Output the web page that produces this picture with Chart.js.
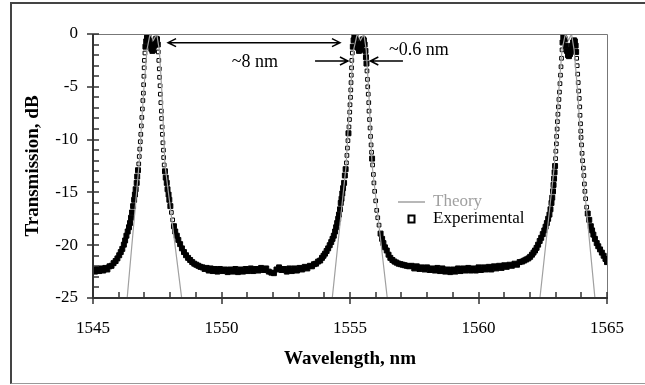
<!DOCTYPE html>
<html>
<head>
<meta charset="utf-8">
<script src="https://cdn.jsdelivr.net/npm/chart.js@4.4.1/dist/chart.umd.min.js"></script>
<style>
  html, body { margin: 0; padding: 0; background: #fff; }
  #wrap { position: relative; width: 645px; height: 385px; overflow: hidden; }
  #frame { position: absolute; left: 10px; top: 2px; width: 700px; height: 379px;
           border-left: 2px solid #444; border-top: 2px solid #444; border-bottom: 1px solid #999;
           pointer-events: none; }
</style>
</head>
<body>
<div id="wrap">
  <canvas id="chart" width="645" height="385"></canvas>
  <div id="frame"></div>
</div>
<script>
// axis ticks
const xTicks = [1545, 1550, 1555, 1560, 1565];
const yTicks = [0, -5, -10, -15, -20, -25];

// experimental transmission
const expWl = [
  1545.00, 1545.08, 1545.16, 1545.24, 1545.32, 1545.40, 1545.48, 1545.56, 1545.64, 1545.72,
  1545.80, 1545.88, 1545.95, 1546.02, 1546.08, 1546.14, 1546.20, 1546.25, 1546.30, 1546.35,
  1546.40, 1546.44, 1546.48, 1546.52, 1546.56, 1546.60, 1546.63, 1546.66, 1546.70, 1546.72,
  1546.75, 1546.78, 1546.80, 1546.82, 1546.84, 1546.86, 1546.88, 1546.90, 1546.92, 1546.94,
  1546.96, 1546.97, 1546.98, 1546.99, 1547.00, 1547.02, 1547.04, 1547.07, 1547.10, 1547.13,
  1547.16, 1547.19, 1547.23, 1547.27, 1547.31, 1547.35, 1547.39, 1547.43, 1547.46, 1547.49,
  1547.52, 1547.54, 1547.56, 1547.58, 1547.59, 1547.61, 1547.62, 1547.64, 1547.66, 1547.67,
  1547.69, 1547.70, 1547.72, 1547.74, 1547.75, 1547.77, 1547.80, 1547.83, 1547.87, 1547.90,
  1547.94, 1547.97, 1548.01, 1548.05, 1548.10, 1548.15, 1548.20, 1548.26, 1548.32, 1548.39,
  1548.46, 1548.54, 1548.62, 1548.70, 1548.78, 1548.86, 1548.94, 1549.02, 1549.10, 1549.18,
  1549.26, 1549.34, 1549.42, 1549.50, 1549.58, 1549.66, 1549.74, 1549.84, 1549.94, 1550.04,
  1550.14, 1550.24, 1550.34, 1550.44, 1550.54, 1550.64, 1550.74, 1550.84, 1550.94, 1551.04,
  1551.14, 1551.24, 1551.34, 1551.44, 1551.54, 1551.64, 1551.74, 1551.84, 1551.94, 1552.04,
  1552.14, 1552.24, 1552.34, 1552.44, 1552.54, 1552.64, 1552.74, 1552.84, 1552.94, 1553.04,
  1553.14, 1553.24, 1553.34, 1553.44, 1553.52, 1553.60, 1553.68, 1553.76, 1553.84, 1553.91,
  1553.97, 1554.03, 1554.09, 1554.15, 1554.21, 1554.27, 1554.32, 1554.37, 1554.42, 1554.46,
  1554.50, 1554.54, 1554.57, 1554.61, 1554.64, 1554.67, 1554.70, 1554.73, 1554.77, 1554.80,
  1554.83, 1554.86, 1554.88, 1554.90, 1554.92, 1554.94, 1554.96, 1554.98, 1554.99, 1555.00,
  1555.02, 1555.03, 1555.04, 1555.05, 1555.06, 1555.07, 1555.09, 1555.11, 1555.14, 1555.17,
  1555.20, 1555.23, 1555.27, 1555.31, 1555.35, 1555.39, 1555.43, 1555.47, 1555.51, 1555.54,
  1555.57, 1555.60, 1555.62, 1555.64, 1555.66, 1555.68, 1555.69, 1555.71, 1555.73, 1555.74,
  1555.76, 1555.78, 1555.80, 1555.82, 1555.84, 1555.86, 1555.88, 1555.91, 1555.93, 1555.96,
  1556.00, 1556.04, 1556.08, 1556.13, 1556.19, 1556.25, 1556.30, 1556.36, 1556.43, 1556.50,
  1556.57, 1556.65, 1556.73, 1556.81, 1556.89, 1556.97, 1557.05, 1557.13, 1557.21, 1557.30,
  1557.40, 1557.50, 1557.60, 1557.70, 1557.80, 1557.90, 1558.00, 1558.10, 1558.20, 1558.30,
  1558.40, 1558.50, 1558.60, 1558.70, 1558.80, 1558.90, 1559.00, 1559.10, 1559.20, 1559.30,
  1559.40, 1559.50, 1559.60, 1559.70, 1559.80, 1559.90, 1560.00, 1560.10, 1560.20, 1560.30,
  1560.40, 1560.50, 1560.60, 1560.70, 1560.80, 1560.90, 1561.00, 1561.10, 1561.20, 1561.30,
  1561.40, 1561.50, 1561.60, 1561.70, 1561.78, 1561.86, 1561.94, 1562.01, 1562.08, 1562.14,
  1562.20, 1562.26, 1562.32, 1562.38, 1562.44, 1562.50, 1562.56, 1562.61, 1562.66, 1562.71,
  1562.76, 1562.80, 1562.84, 1562.87, 1562.90, 1562.92, 1562.94, 1562.96, 1562.98, 1563.00,
  1563.01, 1563.03, 1563.04, 1563.06, 1563.07, 1563.09, 1563.11, 1563.13, 1563.15, 1563.17,
  1563.19, 1563.21, 1563.23, 1563.25, 1563.27, 1563.30, 1563.33, 1563.36, 1563.40, 1563.44,
  1563.48, 1563.52, 1563.56, 1563.60, 1563.64, 1563.68, 1563.72, 1563.75, 1563.78, 1563.80,
  1563.82, 1563.84, 1563.86, 1563.88, 1563.90, 1563.92, 1563.94, 1563.95, 1563.97, 1563.98,
  1563.99, 1564.01, 1564.03, 1564.05, 1564.08, 1564.10, 1564.12, 1564.14, 1564.17, 1564.21,
  1564.25, 1564.31, 1564.37, 1564.42, 1564.47, 1564.53, 1564.60, 1564.66, 1564.73, 1564.80,
  1564.87, 1564.94, 1565.00
];
const expDb = [
  -22.35, -22.5, -22.25, -22.45, -22.2, -22.4, -22.15, -22.3, -22.0, -21.95,
  -21.7, -21.5, -21.25, -20.95, -20.65, -20.35, -19.95, -19.55, -19.1, -18.7,
  -18.3, -17.9, -17.4, -16.9, -16.3, -15.7, -15.2, -14.7, -14.1, -13.5,
  -12.9, -12.3, -11.6, -10.9, -10.2, -9.5, -8.7, -7.9, -7.1, -6.3,
  -5.6, -4.8, -4.0, -3.2, -2.5, -1.8, -1.2, -0.7, -0.35, -0.2,
  -0.3, -0.6, -1.0, -1.4, -1.6, -1.5, -1.1, -0.7, -0.45, -0.5,
  -1.0, -1.7, -2.5, -3.3, -4.1, -4.9, -5.7, -6.5, -7.3, -8.0,
  -8.8, -9.5, -10.3, -11.0, -11.7, -12.4, -13.0, -13.6, -14.1, -14.7,
  -15.2, -15.7, -16.3, -16.9, -17.6, -18.2, -18.7, -19.1, -19.5, -19.9,
  -20.3, -20.65, -20.95, -21.2, -21.4, -21.6, -21.75, -21.85, -21.95, -22.05,
  -22.1, -22.25, -22.15, -22.4, -22.2, -22.45, -22.25, -22.5, -22.25, -22.45,
  -22.3, -22.55, -22.3, -22.5, -22.25, -22.55, -22.3, -22.5, -22.25, -22.45,
  -22.2, -22.45, -22.25, -22.4, -22.15, -22.35, -22.2, -22.5, -22.6, -22.65,
  -22.3, -22.1, -22.35, -22.25, -22.5, -22.2, -22.45, -22.2, -22.4, -22.15,
  -22.3, -22.05, -22.2, -21.95, -22.0, -21.8, -21.75, -21.55, -21.45, -21.2,
  -21.0, -20.8, -20.55, -20.3, -20.0, -19.7, -19.4, -19.1, -18.7, -18.3,
  -17.9, -17.5, -17.1, -16.6, -16.0, -15.6, -15.1, -14.6, -14.1, -13.4,
  -12.8, -12.2, -11.5, -10.8, -10.1, -9.4, -8.8, -8.1, -7.4, -6.7,
  -6.0, -5.3, -4.6, -3.9, -3.2, -2.5, -1.8, -1.2, -0.6, -0.25,
  -0.2, -0.4, -0.9, -1.3, -1.6, -1.5, -1.1, -0.7, -0.5, -0.6,
  -1.0, -1.6, -2.2, -2.8, -3.5, -4.3, -5.0, -5.7, -6.5, -7.3,
  -8.1, -8.9, -9.7, -10.5, -11.2, -11.8, -12.4, -13.3, -14.1, -14.9,
  -15.8, -16.7, -17.4, -18.1, -18.9, -19.4, -19.8, -20.2, -20.5, -20.9,
  -21.2, -21.4, -21.55, -21.65, -21.75, -21.8, -21.85, -21.9, -21.95, -22.0,
  -21.95, -22.2, -22.0, -22.25, -22.1, -22.3, -22.1, -22.35, -22.2, -22.4,
  -22.15, -22.45, -22.2, -22.5, -22.3, -22.55, -22.3, -22.5, -22.2, -22.45,
  -22.2, -22.4, -22.15, -22.4, -22.2, -22.4, -22.1, -22.35, -22.1, -22.3,
  -22.05, -22.3, -22.0, -22.2, -21.95, -22.15, -21.9, -22.05, -21.85, -21.95,
  -21.75, -21.85, -21.6, -21.55, -21.45, -21.35, -21.25, -21.1, -20.9, -20.7,
  -20.5, -20.25, -19.95, -19.6, -19.3, -18.95, -18.6, -18.25, -17.9, -17.5,
  -17.1, -16.6, -16.0, -15.5, -14.9, -14.3, -13.7, -13.1, -12.5, -11.8,
  -11.1, -10.4, -9.7, -9.0, -8.3, -7.6, -6.9, -6.2, -5.5, -4.7,
  -3.9, -3.1, -2.3, -1.5, -0.8, -0.3, -0.2, -0.5, -1.1, -1.6,
  -2.0, -2.1, -1.9, -1.5, -1.1, -0.8, -0.6, -0.7, -1.1, -1.7,
  -2.3, -3.0, -3.8, -4.6, -5.4, -6.1, -6.9, -7.7, -8.5, -9.2,
  -9.8, -10.5, -11.3, -12.0, -12.7, -13.4, -14.2, -14.9, -15.6, -16.4,
  -17.0, -17.6, -18.2, -18.6, -19.0, -19.4, -19.8, -20.1, -20.4, -20.7,
  -21.0, -21.3, -21.6
];

// theory curve, null separates the three resonances
const theoryWl = [
  1546.33, 1546.79, 1546.97, 1547.10, 1547.22, 1547.35, 1547.48, 1547.58, 1547.68, 1547.80, 1548.45, 1551.00,
  1554.31, 1554.85, 1555.01, 1555.14, 1555.28, 1555.41, 1555.54, 1555.63, 1555.73, 1555.86, 1556.45, 1559.00,
  1562.39, 1562.95, 1563.12, 1563.25, 1563.38, 1563.50, 1563.62, 1563.72, 1563.86, 1564.04, 1564.53
];
const theoryDb = [
  -25, -12.4, -5.5, -1.5, 0, -0.6, 0, -1.5, -5.5, -12.4, -25, null,
  -25, -12.4, -5.5, -1.5, 0, -0.6, 0, -1.5, -5.5, -12.4, -25, null,
  -25, -12.5, -5.5, -1.5, 0, -0.6, 0, -1.5, -5.5, -12.5, -25
];

const SERIF = "'Liberation Serif', 'Times New Roman', serif";

function arrowHead(ctx, x, y, dir) {
  ctx.moveTo(x - dir * 8, y - 4);
  ctx.lineTo(x, y);
  ctx.lineTo(x - dir * 8, y + 4);
}

// true where the trace is nearly flat, so overlapping samples read as a solid band
function isFlat(i) {
  const a = expDb[Math.max(i - 1, 0)];
  const b = expDb[Math.min(i + 1, expDb.length - 1)];
  return Math.abs(b - a) < 1.3;
}

// axes with inside minor ticks, legend and the ~8 nm / ~0.6 nm marks
const decorations = {
  id: 'decorations',
  afterDatasetsDraw(chart) {
    const { ctx, chartArea: a, scales: { x, y } } = chart;
    ctx.save();

    ctx.strokeStyle = '#777';
    ctx.lineWidth = 1;
    ctx.beginPath();
    ctx.moveTo(a.left, a.top + 0.5);
    ctx.lineTo(a.right + 0.5, a.top + 0.5);
    ctx.lineTo(a.right + 0.5, a.bottom);
    ctx.stroke();

    ctx.strokeStyle = '#333';
    ctx.lineWidth = 2;
    ctx.beginPath();
    ctx.moveTo(a.left, a.top);
    ctx.lineTo(a.left, a.bottom);
    ctx.lineTo(a.right + 1, a.bottom);
    ctx.stroke();

    ctx.lineWidth = 1.5;
    ctx.beginPath();
    for (let v = x.min; v <= x.max; v++) {
      const px = Math.round(x.getPixelForValue(v));
      const major = v % 5 === 0;
      ctx.moveTo(px, a.bottom - 6);
      ctx.lineTo(px, a.bottom + (major ? 6 : 0));
    }
    for (let v = y.min; v <= y.max; v++) {
      const py = Math.round(y.getPixelForValue(v));
      const major = v % 5 === 0;
      ctx.moveTo(a.left + 6, py);
      ctx.lineTo(a.left - (major ? 6 : 0), py);
    }
    ctx.stroke();

    // legend
    ctx.strokeStyle = '#a0a0a0';
    ctx.lineWidth = 1.5;
    ctx.beginPath();
    ctx.moveTo(398, 202);
    ctx.lineTo(425, 202);
    ctx.stroke();
    ctx.strokeStyle = '#000';
    ctx.lineWidth = 2;
    ctx.fillStyle = '#fff';
    ctx.fillRect(408.5, 215.5, 6, 7);
    ctx.strokeRect(408.5, 215.5, 6, 7);
    ctx.font = '17px ' + SERIF;
    ctx.textBaseline = 'middle';
    ctx.textAlign = 'left';
    ctx.fillStyle = '#a0a0a0';
    ctx.fillText('Theory', 433, 202);
    ctx.fillStyle = '#000';
    ctx.fillText('Experimental', 433, 219);

    // annotations
    ctx.strokeStyle = '#000';
    ctx.lineWidth = 1.5;
    const yTop = y.getPixelForValue(-0.82);
    const x0 = x.getPixelForValue(1547.92), x1 = x.getPixelForValue(1554.61);
    ctx.beginPath();
    ctx.moveTo(x0, yTop); ctx.lineTo(x1, yTop);
    arrowHead(ctx, x0, yTop, -1);
    arrowHead(ctx, x1, yTop, 1);
    const yMid = y.getPixelForValue(-2.56);
    const l0 = x.getPixelForValue(1553.64), l1 = x.getPixelForValue(1554.92);
    const r0 = x.getPixelForValue(1557.06), r1 = x.getPixelForValue(1555.79);
    ctx.moveTo(l0, yMid); ctx.lineTo(l1, yMid);
    arrowHead(ctx, l1, yMid, 1);
    ctx.moveTo(r0, yMid); ctx.lineTo(r1, yMid);
    arrowHead(ctx, r1, yMid, -1);
    ctx.stroke();

    ctx.font = '18px ' + SERIF;
    ctx.textAlign = 'center';
    ctx.fillText('~8 nm', x.getPixelForValue(1551.3), y.getPixelForValue(-2.65));
    ctx.textAlign = 'left';
    ctx.fillText('~0.6 nm', x.getPixelForValue(1556.52), y.getPixelForValue(-1.55));
    ctx.restore();
  }
};

const expPoints = expWl.map((w, i) => ({ x: w, y: expDb[i] }));
const theoryPoints = theoryWl.map((w, i) => ({ x: w, y: theoryDb[i] }));

new Chart(document.getElementById('chart'), {
  type: 'scatter',
  data: {
    datasets: [
      {
        label: 'Theory',
        data: theoryPoints,
        showLine: true,
        borderColor: '#a0a0a0',
        borderWidth: 1.2,
        pointRadius: 0,
        tension: 0
      },
      {
        label: 'Experimental',
        data: expPoints,
        showLine: false,
        pointStyle: 'rect',
        pointRadius: ctx => (isFlat(ctx.dataIndex) ? 3.5 : 2.6),
        pointBorderWidth: 1,
        pointBorderColor: '#000',
        pointBackgroundColor: ctx => (isFlat(ctx.dataIndex) ? '#000' : '#fff')
      }
    ]
  },
  options: {
    responsive: false,
    animation: false,
    devicePixelRatio: 1,
    layout: { padding: { top: 34, right: 38, left: 0, bottom: 0 } },
    plugins: { legend: { display: false }, tooltip: { enabled: false } },
    scales: {
      x: {
        type: 'linear',
        min: 1545,
        max: 1565,
        afterBuildTicks: s => { s.ticks = xTicks.map(v => ({ value: v })); },
        afterFit: s => { s.height = 87; },
        grid: { display: false, drawTicks: false },
        border: { display: false },
        ticks: {
          padding: 20,
          color: '#000',
          maxRotation: 0,
          autoSkip: false,
          font: { family: SERIF, size: 17 },
          callback: v => String(v)
        },
        title: {
          display: true,
          text: 'Wavelength, nm',
          color: '#000',
          font: { family: SERIF, size: 19, weight: 'bold' },
          padding: { top: 0, bottom: 15 }
        }
      },
      y: {
        type: 'linear',
        min: -25,
        max: 0,
        afterBuildTicks: s => { s.ticks = yTicks.map(v => ({ value: v })); },
        afterFit: s => { s.width = 93; },
        grid: { display: false, drawTicks: false },
        border: { display: false },
        ticks: {
          padding: 15,
          color: '#000',
          autoSkip: false,
          font: { family: SERIF, size: 17 },
          callback: v => String(v)
        },
        title: {
          display: true,
          text: 'Transmission, dB',
          color: '#000',
          font: { family: SERIF, size: 19, weight: 'bold' },
          padding: { top: 22, bottom: 0 }
        }
      }
    }
  },
  plugins: [decorations]
});
</script>
</body>
</html>
